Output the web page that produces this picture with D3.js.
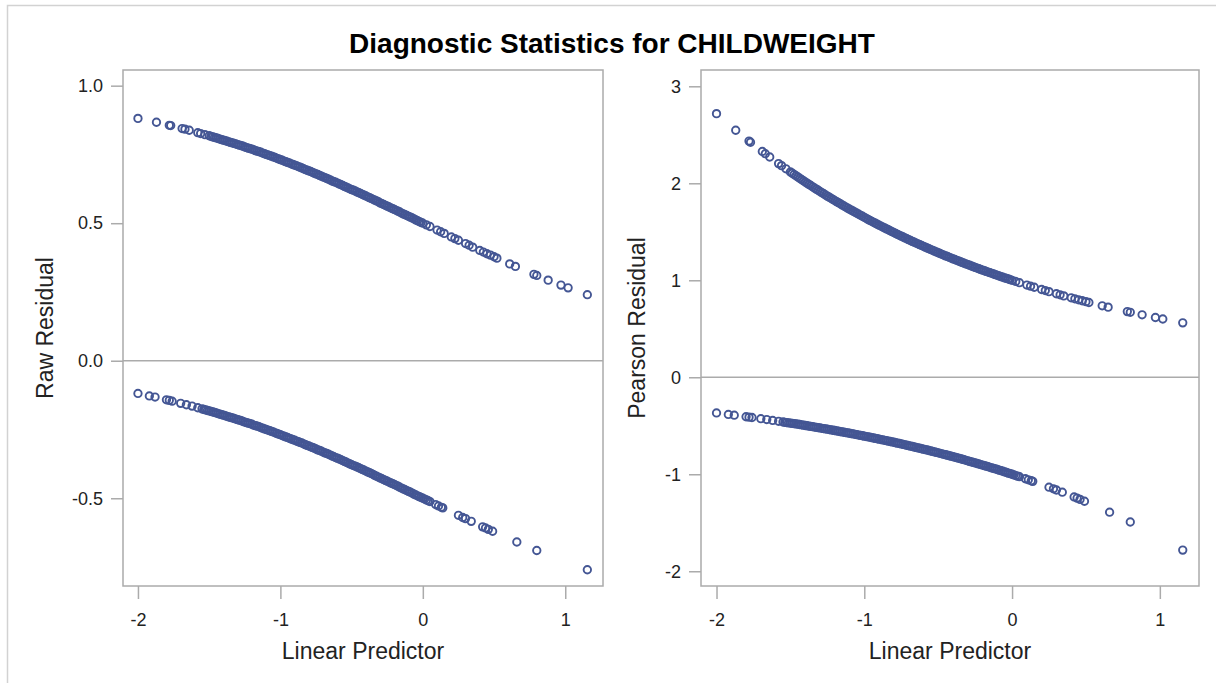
<!DOCTYPE html>
<html>
<head>
<meta charset="utf-8">
<script src="https://cdn.jsdelivr.net/npm/d3@7"></script>
<style>
  body { margin: 0; background: #fff; }
  svg { display: block; font-family: "Liberation Sans", Arial, sans-serif; }
</style>
</head>
<body>
<div id="app"></div>
<script>
// observations with response = 1 (upper band)
const upperPred = [
  -2.00, -1.87, -1.78, -1.77, -1.69, -1.67, -1.64, -1.58, -1.56, -1.53,
  -1.500, -1.475, -1.450, -1.425, -1.400, -1.375, -1.350, -1.325, -1.300, -1.275,
  -1.250, -1.225, -1.200, -1.175, -1.150, -1.125, -1.100, -1.075, -1.050, -1.025,
  -1.000, -0.975, -0.950, -0.925, -0.900, -0.875, -0.850, -0.825, -0.800, -0.775,
  -0.750, -0.725, -0.700, -0.675, -0.650, -0.625, -0.600, -0.575, -0.550, -0.525,
  -0.500, -0.475, -0.450, -0.425, -0.400, -0.375, -0.350, -0.325, -0.300, -0.275,
  -0.250, -0.225, -0.200, -0.175, -0.150, -0.125, -0.100, -0.075, -0.050, -0.025,
  0.000, 0.025, 0.050, 0.100, 0.125, 0.150, 0.200, 0.225, 0.250, 0.300,
  0.325, 0.350, 0.400, 0.425, 0.450, 0.475, 0.500, 0.52, 0.61, 0.65,
  0.78, 0.80, 0.88, 0.97, 1.02, 1.155,
  // dense part of the band
  -1.4875, -1.4625, -1.4375, -1.4125, -1.3875, -1.3625, -1.3375, -1.3125, -1.2875, -1.2625,
  -1.2375, -1.2125, -1.1875, -1.1625, -1.1375, -1.1125, -1.0875, -1.0625, -1.0375, -1.0125,
  -0.9875, -0.9625, -0.9375, -0.9125, -0.8875, -0.8625, -0.8375, -0.8125, -0.7875, -0.7625,
  -0.7375, -0.7125, -0.6875, -0.6625, -0.6375, -0.6125, -0.5875, -0.5625, -0.5375, -0.5125,
  -0.4875, -0.4625, -0.4375, -0.4125, -0.3875, -0.3625, -0.3375, -0.3125, -0.2875, -0.2625,
  -0.2375, -0.2125, -0.1875, -0.1625, -0.1375, -0.1125, -0.0875, -0.0625, -0.0375, -0.0125
];
const upperRaw = [
  .881, .867, .856, .855, .844, .842, .838, .829, .826, .822,
  .818, .814, .810, .806, .802, .798, .794, .790, .786, .782,
  .777, .773, .769, .764, .760, .755, .750, .746, .741, .736,
  .731, .726, .721, .716, .711, .706, .701, .695, .690, .685,
  .679, .674, .668, .663, .657, .651, .646, .640, .634, .628,
  .622, .617, .611, .605, .599, .593, .587, .581, .574, .568,
  .562, .556, .550, .544, .537, .531, .525, .519, .512, .506,
  .500, .494, .488, .475, .469, .463, .450, .444, .438, .426,
  .420, .413, .401, .395, .389, .384, .378, .373, .352, .343,
  .314, .310, .293, .275, .265, .240,
  .816, .812, .808, .804, .800, .796, .792, .788, .784, .780,
  .775, .771, .767, .762, .758, .753, .748, .744, .739, .734,
  .729, .724, .719, .714, .709, .704, .698, .693, .688, .682,
  .677, .671, .666, .660, .654, .649, .643, .637, .631, .625,
  .620, .614, .608, .602, .596, .590, .584, .578, .571, .565,
  .559, .553, .547, .541, .534, .528, .522, .516, .509, .503
];
const upperPearson = [
  2.718, 2.547, 2.435, 2.423, 2.328, 2.305, 2.271, 2.203, 2.182, 2.149,
  2.117, 2.091, 2.065, 2.039, 2.014, 1.989, 1.964, 1.940, 1.916, 1.892,
  1.868, 1.845, 1.822, 1.800, 1.777, 1.755, 1.733, 1.712, 1.691, 1.670,
  1.649, 1.628, 1.608, 1.588, 1.568, 1.549, 1.530, 1.511, 1.492, 1.473,
  1.455, 1.437, 1.419, 1.401, 1.384, 1.367, 1.350, 1.333, 1.317, 1.300,
  1.284, 1.268, 1.252, 1.237, 1.221, 1.206, 1.191, 1.176, 1.162, 1.147,
  1.133, 1.119, 1.105, 1.091, 1.078, 1.065, 1.051, 1.038, 1.025, 1.013,
  1.000, .988, .975, .951, .939, .928, .905, .894, .883, .861,
  .850, .839, .819, .809, .799, .789, .779, .771, .737, .723,
  .677, .670, .644, .616, .601, .561,
  2.104, 2.078, 2.052, 2.027, 2.002, 1.977, 1.952, 1.928, 1.904, 1.880,
  1.857, 1.834, 1.811, 1.789, 1.766, 1.744, 1.723, 1.702, 1.681, 1.660,
  1.639, 1.618, 1.598, 1.578, 1.559, 1.540, 1.521, 1.502, 1.483, 1.464,
  1.446, 1.428, 1.410, 1.393, 1.376, 1.359, 1.342, 1.325, 1.309, 1.292,
  1.276, 1.260, 1.245, 1.229, 1.214, 1.199, 1.184, 1.169, 1.155, 1.140,
  1.126, 1.112, 1.098, 1.085, 1.072, 1.058, 1.045, 1.032, 1.019, 1.006
];

// observations with response = 0 (lower band)
const lowerPred = [
  -2.00, -1.92, -1.88, -1.80, -1.78, -1.76, -1.70, -1.66, -1.62, -1.58,
  -1.550, -1.525, -1.500, -1.475, -1.450, -1.425, -1.400, -1.375, -1.350, -1.325,
  -1.300, -1.275, -1.250, -1.225, -1.200, -1.175, -1.150, -1.125, -1.100, -1.075,
  -1.050, -1.025, -1.000, -0.975, -0.950, -0.925, -0.900, -0.875, -0.850, -0.825,
  -0.800, -0.775, -0.750, -0.725, -0.700, -0.675, -0.650, -0.625, -0.600, -0.575,
  -0.550, -0.525, -0.500, -0.475, -0.450, -0.425, -0.400, -0.375, -0.350, -0.325,
  -0.300, -0.275, -0.250, -0.225, -0.200, -0.175, -0.150, -0.125, -0.100, -0.075,
  -0.050, -0.025, 0.000, 0.025, 0.050, 0.09, 0.11, 0.13, 0.14, 0.25,
  0.28, 0.30, 0.34, 0.42, 0.44, 0.46, 0.49, 0.66, 0.80, 1.155,
  // dense part of the band
  -1.5375, -1.5125, -1.4875, -1.4625, -1.4375, -1.4125, -1.3875, -1.3625, -1.3375, -1.3125,
  -1.2875, -1.2625, -1.2375, -1.2125, -1.1875, -1.1625, -1.1375, -1.1125, -1.0875, -1.0625,
  -1.0375, -1.0125, -0.9875, -0.9625, -0.9375, -0.9125, -0.8875, -0.8625, -0.8375, -0.8125,
  -0.7875, -0.7625, -0.7375, -0.7125, -0.6875, -0.6625, -0.6375, -0.6125, -0.5875, -0.5625,
  -0.5375, -0.5125, -0.4875, -0.4625, -0.4375, -0.4125, -0.3875, -0.3625, -0.3375, -0.3125,
  -0.2875, -0.2625, -0.2375, -0.2125, -0.1875, -0.1625, -0.1375, -0.1125, -0.0875, -0.0625,
  -0.0375, -0.0125, 0.0125, 0.0375
];
const lowerRaw = [
  -.119, -.128, -.132, -.142, -.144, -.147, -.155, -.160, -.165, -.171,
  -.175, -.179, -.182, -.186, -.190, -.194, -.198, -.202, -.206, -.210,
  -.214, -.218, -.223, -.227, -.231, -.236, -.240, -.245, -.250, -.254,
  -.259, -.264, -.269, -.274, -.279, -.284, -.289, -.294, -.299, -.305,
  -.310, -.315, -.321, -.326, -.332, -.337, -.343, -.349, -.354, -.360,
  -.366, -.372, -.378, -.383, -.389, -.395, -.401, -.407, -.413, -.420,
  -.426, -.432, -.438, -.444, -.450, -.456, -.463, -.469, -.475, -.481,
  -.488, -.494, -.500, -.506, -.512, -.523, -.528, -.533, -.535, -.562,
  -.570, -.574, -.584, -.604, -.608, -.613, -.620, -.659, -.690, -.760,
  -.177, -.181, -.184, -.188, -.192, -.196, -.200, -.204, -.208, -.212,
  -.216, -.221, -.225, -.229, -.234, -.238, -.243, -.248, -.252, -.257,
  -.262, -.267, -.272, -.277, -.282, -.287, -.292, -.297, -.302, -.308,
  -.313, -.318, -.324, -.329, -.335, -.340, -.346, -.352, -.357, -.363,
  -.369, -.375, -.381, -.386, -.392, -.398, -.404, -.410, -.417, -.423,
  -.429, -.435, -.441, -.447, -.453, -.460, -.466, -.472, -.478, -.485,
  -.491, -.497, -.503, -.509
];
const lowerPearson = [
  -.368, -.383, -.391, -.407, -.411, -.415, -.427, -.436, -.445, -.454,
  -.461, -.467, -.472, -.478, -.484, -.490, -.497, -.503, -.509, -.516,
  -.522, -.529, -.535, -.542, -.549, -.556, -.563, -.570, -.577, -.584,
  -.592, -.599, -.607, -.614, -.622, -.630, -.638, -.646, -.654, -.662,
  -.670, -.679, -.687, -.696, -.705, -.714, -.723, -.732, -.741, -.750,
  -.760, -.769, -.779, -.789, -.799, -.809, -.819, -.829, -.839, -.850,
  -.861, -.872, -.883, -.894, -.905, -.916, -.928, -.939, -.951, -.963,
  -.975, -.988, -1.000, -1.013, -1.025, -1.046, -1.057, -1.067, -1.073, -1.133,
  -1.150, -1.162, -1.185, -1.234, -1.246, -1.259, -1.278, -1.391, -1.492, -1.782,
  -.464, -.470, -.475, -.481, -.487, -.494, -.500, -.506, -.513, -.519,
  -.526, -.532, -.539, -.546, -.553, -.560, -.567, -.574, -.581, -.588,
  -.596, -.603, -.611, -.618, -.626, -.634, -.642, -.650, -.658, -.666,
  -.675, -.683, -.692, -.701, -.710, -.719, -.728, -.737, -.746, -.755,
  -.765, -.774, -.784, -.794, -.804, -.814, -.824, -.834, -.845, -.856,
  -.867, -.878, -.889, -.900, -.911, -.922, -.934, -.945, -.957, -.969,
  -.982, -.994, -1.006, -1.019
];

const xTicks = [-2, -1, 0, 1];
const rawTicks = [-0.5, 0, 0.5, 1.0];
const pearsonTicks = [-2, -1, 0, 1, 2, 3];

const width = 1216;
const height = 683;
const frameColor = '#ababab';
const markerColor = '#445694';
const textColor = '#222';

const svg = d3.select('#app')
  .append('svg')
  .attr('width', width)
  .attr('height', height);

// light outer border of the graph
svg.append('rect')
  .attr('x', 7.5).attr('y', 5.5)
  .attr('width', width).attr('height', height)
  .attr('fill', 'none')
  .attr('stroke', '#d2d2d2')
  .attr('stroke-width', 1.5);

svg.append('text')
  .attr('x', 612).attr('y', 53)
  .attr('text-anchor', 'middle')
  .attr('font-size', 28)
  .attr('font-weight', 'bold')
  .attr('fill', '#000')
  .text('Diagnostic Statistics for CHILDWEIGHT');

function drawPanel(opt) {
  const top = 70, bottom = 586;

  const xScale = d3.scaleLinear()
    .domain([-2.105, 1.265])
    .range([opt.left, opt.right]);

  const yScale = d3.scaleLinear()
    .domain(opt.yDomain)
    .range([bottom, top]);

  const g = svg.append('g');

  // reference line at zero
  g.append('line')
    .attr('x1', opt.left).attr('x2', opt.right)
    .attr('y1', yScale(0)).attr('y2', yScale(0))
    .attr('stroke', frameColor)
    .attr('stroke-width', 1.5);

  const xAxis = g.append('g')
    .attr('transform', `translate(0, ${bottom})`)
    .call(d3.axisBottom(xScale).tickValues(xTicks).tickSize(13).tickPadding(14)
      .tickFormat(d => String(d)));

  const yAxis = g.append('g')
    .attr('transform', `translate(${opt.left}, 0)`)
    .call(d3.axisLeft(yScale).tickValues(opt.yTicks).tickSize(12).tickPadding(8)
      .tickFormat(opt.fmt));

  [xAxis, yAxis].forEach(ax => {
    ax.select('.domain').remove();
    ax.selectAll('.tick line').attr('stroke', frameColor).attr('stroke-width', 1.5);
    ax.selectAll('.tick text')
      .attr('fill', textColor)
      .attr('font-size', 18)
      .attr('font-family', '"Liberation Sans", Arial, sans-serif');
  });

  const points = opt.upperX.map((x, i) => [x, opt.upperY[i]])
    .concat(opt.lowerX.map((x, i) => [x, opt.lowerY[i]]));

  g.selectAll('circle')
    .data(points)
    .enter()
    .append('circle')
    .attr('cx', d => xScale(d[0]))
    .attr('cy', d => yScale(d[1]))
    .attr('r', 3.7)
    .attr('fill', 'none')
    .attr('stroke', markerColor)
    .attr('stroke-width', 1.9);

  // plot frame
  g.append('rect')
    .attr('x', opt.left).attr('y', top)
    .attr('width', opt.right - opt.left)
    .attr('height', bottom - top)
    .attr('fill', 'none')
    .attr('stroke', frameColor)
    .attr('stroke-width', 1.5);

  g.append('text')
    .attr('x', (opt.left + opt.right) / 2).attr('y', 659)
    .attr('text-anchor', 'middle')
    .attr('font-size', 23)
    .attr('fill', textColor)
    .text('Linear Predictor');

  g.append('text')
    .attr('transform', `translate(${opt.labelX}, ${(top + bottom) / 2}) rotate(-90)`)
    .attr('text-anchor', 'middle')
    .attr('font-size', 23)
    .attr('fill', textColor)
    .text(opt.yLabel);
}

drawPanel({
  left: 123, right: 603,
  yDomain: [-0.819, 1.057], yTicks: rawTicks, fmt: d => d.toFixed(1),
  yLabel: 'Raw Residual', labelX: 53,
  upperX: upperPred, upperY: upperRaw,
  lowerX: lowerPred, lowerY: lowerRaw
});

drawPanel({
  left: 701, right: 1199,
  yDomain: [-2.152, 3.168], yTicks: pearsonTicks, fmt: d => String(d),
  yLabel: 'Pearson Residual', labelX: 645,
  upperX: upperPred, upperY: upperPearson,
  lowerX: lowerPred, lowerY: lowerPearson
});
</script>
</body>
</html>
